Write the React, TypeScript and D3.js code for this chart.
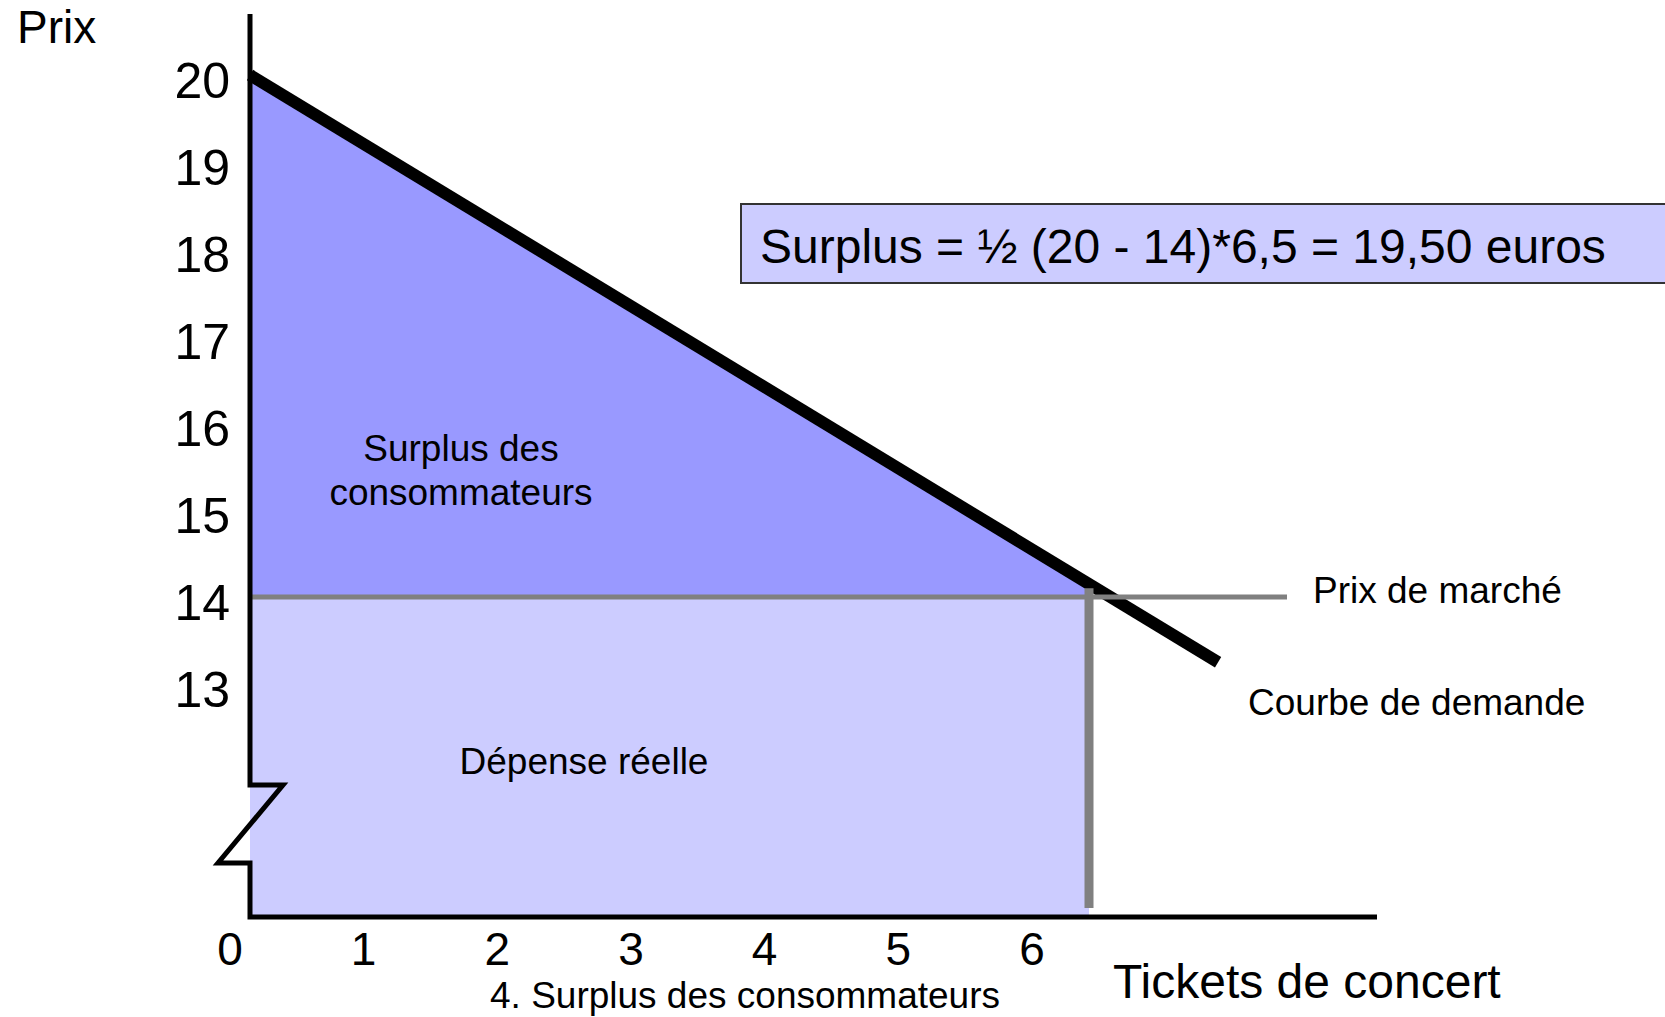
import React, { useRef, useEffect } from "react";
import * as d3 from "d3";

// prix affichés sur l'axe vertical
const priceTicks = [20, 19, 18, 17, 16, 15, 14, 13];
// quantités affichées sur l'axe horizontal
const quantityTicks = [0, 1, 2, 3, 4, 5, 6];

const maxPrice = 20;
const marketPrice = 14;
const marketQuantity = 6.5;

// courbe de demande (quantité, prix)
const demandCurve = [
    { q: 0, p: 20 },
    { q: 7.5, p: 13.25 },
];

const surplusFormula = "Surplus = ½ (20 - 14)*6,5 = 19,50 euros";

export default function App() {
    const width = 1665;
    const height = 1017;
    const font = "'Liberation Sans', Arial, Helvetica, sans-serif";
    const ref = useRef<HTMLDivElement>(null);

    useEffect(() => {
        document.body.style.margin = "0";
        document.body.style.overflow = "hidden";

        const x = d3.scaleLinear().domain([0, marketQuantity]).range([250, 1089]);
        const y = d3.scaleLinear().domain([marketPrice, maxPrice]).range([597, 75]);
        const xLabel = d3.scaleLinear().domain([0, 6]).range([230, 1032]);

        const axisBottom = 917;
        const axisRight = 1377;
        const axisTop = 14;

        const svg = d3.select(ref.current)
            .append("svg")
            .attr("width", width)
            .attr("height", height)
            .style("display", "block")
            .style("font-family", font);

        svg.append("rect")
            .attr("width", width)
            .attr("height", height)
            .attr("fill", "white");

        // dépense réelle
        svg.append("rect")
            .attr("x", x(0))
            .attr("y", y(marketPrice))
            .attr("width", x(marketQuantity) - x(0))
            .attr("height", axisBottom - 2 - y(marketPrice))
            .attr("fill", "#CCCCFF");

        // surplus des consommateurs (glissé sous la courbe)
        const area = d3.line<[number, number]>()
            .x(d => x(d[0]))
            .y(d => y(d[1]));
        svg.append("path")
            .attr("d", area([[0, maxPrice], [marketQuantity, 14.1], [marketQuantity, marketPrice], [0, marketPrice]]) + "Z")
            .attr("fill", "#9999FF");

        // courbe de demande
        const line = d3.line<{ q: number; p: number }>()
            .x(d => x(d.q))
            .y(d => y(d.p));
        svg.append("path")
            .attr("d", line(demandCurve))
            .attr("fill", "none")
            .attr("stroke", "black")
            .attr("stroke-width", 12);

        // prix de marché
        svg.append("line")
            .attr("x1", x(0))
            .attr("x2", 1287)
            .attr("y1", y(marketPrice))
            .attr("y2", y(marketPrice))
            .attr("stroke", "#808080")
            .attr("stroke-width", 5);

        svg.append("line")
            .attr("x1", x(marketQuantity))
            .attr("x2", x(marketQuantity))
            .attr("y1", y(14.1))
            .attr("y2", axisBottom - 9)
            .attr("stroke", "#808080")
            .attr("stroke-width", 9);

        // axes avec coupure
        const ax = x(0);
        svg.append("path")
            .attr("d", `M${ax},${axisTop}V785H${ax + 33}L${ax - 32},863H${ax}V${axisBottom}H${axisRight}`)
            .attr("fill", "none")
            .attr("stroke", "black")
            .attr("stroke-width", 5)
            .attr("stroke-linejoin", "miter");

        svg.append("g")
            .selectAll("text")
            .data(priceTicks)
            .enter()
            .append("text")
            .attr("x", 230)
            .attr("y", d => y(d) + 23)
            .attr("text-anchor", "end")
            .attr("font-size", 50)
            .text(d => d);

        svg.append("g")
            .selectAll("text")
            .data(quantityTicks)
            .enter()
            .append("text")
            .attr("x", d => xLabel(d))
            .attr("y", 965)
            .attr("text-anchor", "middle")
            .attr("font-size", 46)
            .text(d => d);

        const label = (txt: string, px: number, py: number, size: number, anchor = "start") =>
            svg.append("text")
                .attr("x", px)
                .attr("y", py)
                .attr("font-size", size)
                .attr("text-anchor", anchor)
                .text(txt);

        label("Prix", 17, 43, 46);
        label("Tickets de concert", 1113, 998, 48);
        label("Prix de marché", 1313, 603, 37);
        label("Courbe de demande", 1248, 715, 37);
        label("Surplus des", 461, 461, 37, "middle");
        label("consommateurs", 461, 505, 37, "middle");
        label("Dépense réelle", 584, 774, 37, "middle");
        label("4. Surplus des consommateurs", 490, 1008, 37);

        // encadré de calcul
        svg.append("rect")
            .attr("x", 741)
            .attr("y", 204)
            .attr("width", 1000)
            .attr("height", 79)
            .attr("fill", "#CCCCFF")
            .attr("stroke", "#333333")
            .attr("stroke-width", 2);
        label(surplusFormula, 760, 263, 48);

        return () => {
            svg.remove();
        };
    }, []);

    return <div ref={ref} />;
}
